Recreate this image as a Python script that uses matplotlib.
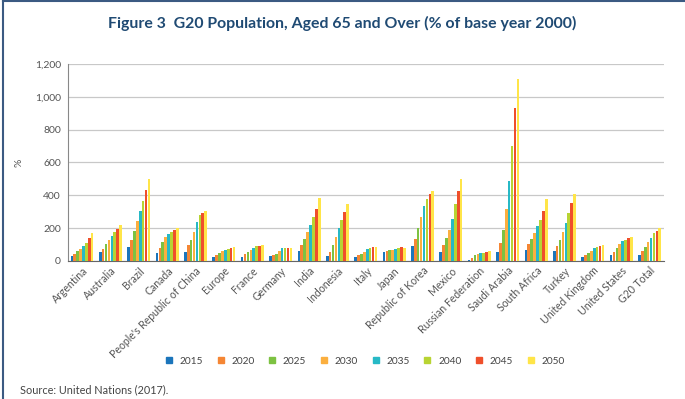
import matplotlib
matplotlib.use("Agg")
import matplotlib.pyplot as plt
from matplotlib.lines import Line2D
import numpy as np

plt.rcParams['font.family'] = ['Lato', 'DejaVu Sans']

countries = ["Argentina", "Australia", "Brazil", "Canada", "People's Republic of China",
             "Europe", "France", "Germany", "India", "Indonesia", "Italy", "Japan",
             "Republic of Korea", "Mexico", "Russian Federation", "Saudi Arabia",
             "South Africa", "Turkey", "United Kingdom", "United States", "G20 Total"]
years = ["2015", "2020", "2025", "2030", "2035", "2040", "2045", "2050"]

# one list per country, values for 2015..2050
argentina = [28, 42, 58, 72, 90, 112, 142, 168]
australia = [53, 73, 102, 130, 153, 175, 193, 220]
brazil = [85, 128, 181, 244, 305, 364, 431, 500]
canada = [51, 79, 114, 144, 165, 177, 189, 199]
china = [55, 96, 130, 179, 236, 281, 293, 305]
europe = [22, 35, 47, 59, 69, 75, 79, 85]
france = [26, 43, 55, 69, 81, 92, 94, 96]
germany = [28, 37, 45, 61, 77, 77, 79, 77]
india = [59, 96, 134, 175, 220, 268, 319, 382]
indonesia = [31, 57, 98, 144, 199, 248, 297, 346]
italy = [26, 35, 45, 57, 71, 79, 85, 83]
japan = [53, 63, 65, 67, 71, 77, 83, 81]
korea = [92, 136, 199, 268, 332, 376, 407, 423]
mexico = [57, 96, 140, 191, 256, 346, 427, 500]
russia = [3, 20, 35, 45, 47, 47, 53, 61]
saudi = [55, 110, 187, 319, 484, 702, 934, 1107]
south_africa = [69, 102, 136, 173, 212, 252, 307, 380]
turkey = [59, 90, 130, 175, 230, 289, 350, 407]
uk = [24, 35, 47, 61, 77, 85, 94, 100]
us = [35, 55, 81, 104, 122, 130, 138, 146]
g20 = [39, 63, 85, 114, 142, 169, 185, 201]

colors = ["#1B75BB", "#F58634", "#7DC242", "#FBAF3F", "#27B9C6",
          "#B8D433", "#EF4F2B", "#FFE548"]

data = np.array([argentina, australia, brazil, canada, china, europe, france,
                 germany, india, indonesia, italy, japan, korea, mexico, russia,
                 saudi, south_africa, turkey, uk, us, g20])

fig = plt.figure(figsize=(6.85, 3.99), dpi=100)
ax = fig.add_axes([0.099, 0.346, 0.870, 0.494])

n = len(years)
group_w = 0.82
bw = group_w / n
x = np.arange(len(countries))
for j, yr in enumerate(years):
    ax.bar(x - group_w / 2 + bw * (j + 0.5), data[:, j], width=bw * 0.9,
           color=colors[j], label=yr, zorder=3)

ax.set_xlim(-0.5, len(countries) - 0.5)
ax.set_ylim(0, 1200)
ax.set_yticks(range(0, 1201, 200))
ax.set_yticklabels([f"{v:,}" for v in range(0, 1201, 200)], fontsize=7.5, color="#555555")
ax.yaxis.grid(True, color="#c8c8c8", linewidth=0.9, zorder=0)
ax.tick_params(axis="y", length=0, pad=5)
ax.tick_params(axis="x", length=0, pad=3)
ax.set_xticks(x)
ax.set_xticklabels(countries, rotation=45, ha="right", rotation_mode="anchor",
                   fontsize=7.6, color="#555555")
for s in ["top", "right"]:
    ax.spines[s].set_visible(False)
ax.spines["left"].set_color("#888888")
ax.spines["bottom"].set_color("#666666")
ax.set_ylabel("%", fontsize=7.5, color="#555555", labelpad=8)

handles = [Line2D([], [], marker="s", linestyle="", markersize=4.5,
                  color=c, label=y) for c, y in zip(colors, years)]
fig.legend(handles=handles, loc="center", bbox_to_anchor=(0.528, 0.095), ncol=8,
           frameon=False, fontsize=7.3, handletextpad=0.05, columnspacing=0.75,
           labelcolor="#444444")

fig.text(0.5, 0.94, "Figure 3  G20 Population, Aged 65 and Over (% of base year 2000)",
         ha="center", va="center", fontsize=11.4, fontweight="bold", color="#1F4A73")
fig.text(0.029, 0.022, "Source: United Nations (2017).", ha="left", va="center",
         fontsize=7.8, color="#444444")

# figure frame: left and top edges only
fig.add_artist(Line2D([0.004, 0.004], [0, 0.997], transform=fig.transFigure,
                      color="#3B5A82", linewidth=1.5))
fig.add_artist(Line2D([0.004, 1], [0.997, 0.997], transform=fig.transFigure,
                      color="#3B5A82", linewidth=1.5))

fig.savefig("out.png", dpi=100)
